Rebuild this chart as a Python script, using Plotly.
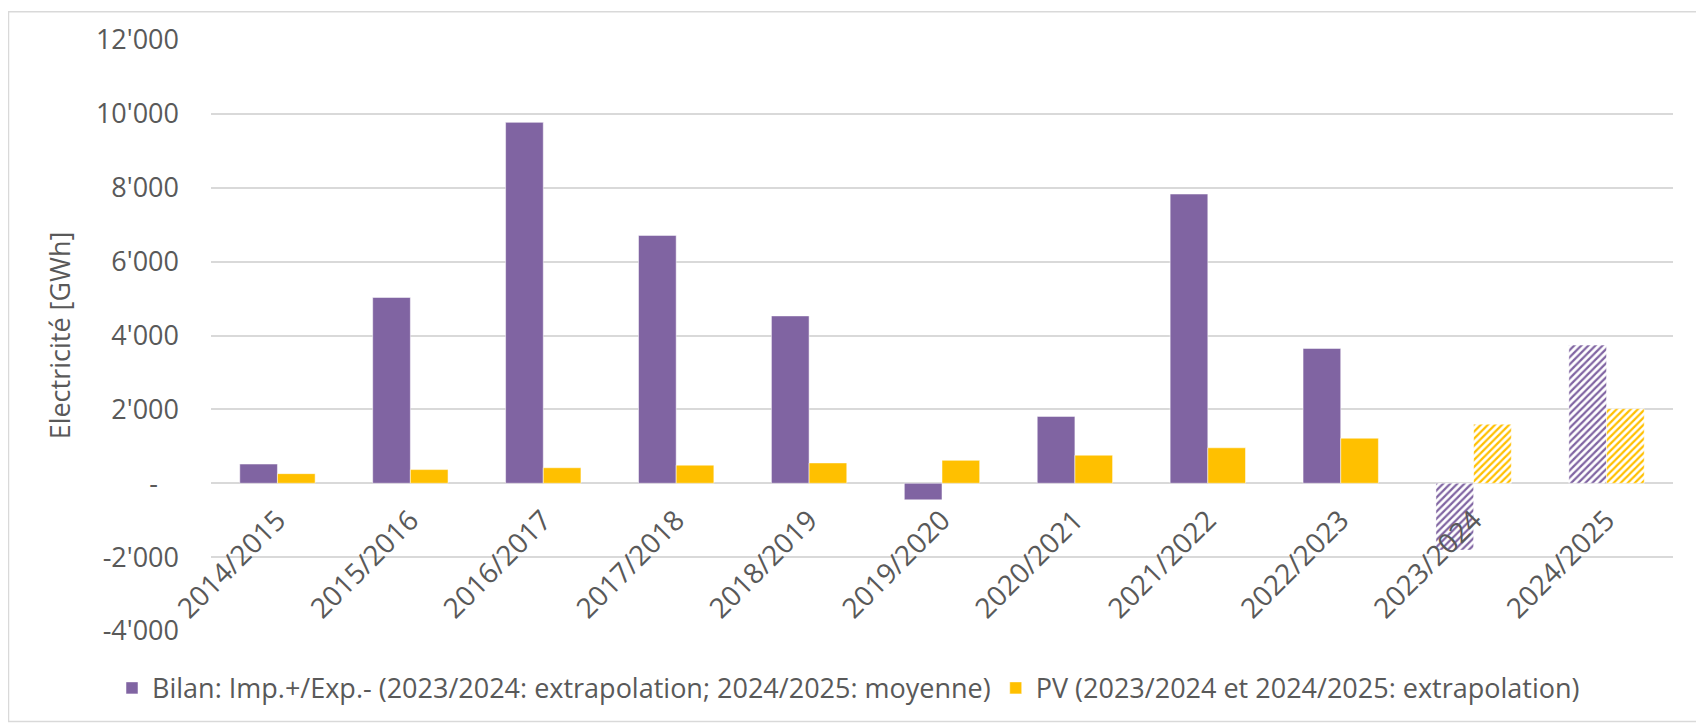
import plotly.graph_objects as go

# saisons
seasons = ["2014/2015", "2015/2016", "2016/2017", "2017/2018", "2018/2019", "2019/2020",
           "2020/2021", "2021/2022", "2022/2023", "2023/2024", "2024/2025"]

# GWh
bilan = [520, 5030, 9770, 6710, 4530, -450, 1810, 7830, 3650, -1810, 3740]
pv = [260, 370, 420, 490, 550, 620, 760, 960, 1220, 1600, 2020]

# extrapolated / averaged seasons are hatched
hatch = ["", "", "", "", "", "", "", "", "", "/", "/"]

y_ticks = [-4000, -2000, 0, 2000, 4000, 6000, 8000, 10000, 12000]
y_ticktext = ["-4'000", "-2'000", "-\u00a0\u00a0\u00a0", "2'000", "4'000", "6'000", "8'000", "10'000", "12'000"]

PURPLE = "#8064A2"
YELLOW = "#FFC000"
GRID = "#d9d9d9"
TXT = "#595959"
FONT = "Open Sans"

# page body has an 8px margin, so the figure is 8px smaller than the window
W, H = 1696, 719
L, R, T, B = 203, 31, 29, 96
pw, ph = W - L - R, H - T - B

y_min, y_max = y_ticks[0], y_ticks[-1]
zero_pos = (0 - y_min) / (y_max - y_min)

fig = go.Figure()
fig.add_trace(go.Bar(
    x=seasons, y=bilan,
    name="Bilan: Imp.+/Exp.- (2023/2024: extrapolation; 2024/2025: moyenne)",
    marker=dict(color=PURPLE, line=dict(color="rgba(255,255,255,0.5)", width=1),
                pattern=dict(shape=hatch, fgcolor=PURPLE, bgcolor="white", size=5, solidity=0.45, fillmode="replace")),
))
fig.add_trace(go.Bar(
    x=seasons, y=pv,
    name="PV (2023/2024 et 2024/2025: extrapolation)",
    marker=dict(color=YELLOW, line=dict(color="rgba(255,255,255,0.5)", width=1),
                pattern=dict(shape=hatch, fgcolor=YELLOW, bgcolor="white", size=5, solidity=0.45, fillmode="replace")),
))

fig.update_layout(
    width=W, height=H,
    margin=dict(l=L, r=R, t=T, b=B),
    paper_bgcolor="white", plot_bgcolor="white",
    barmode="group", bargap=0.433, bargroupgap=0,
    font=dict(family=FONT, color=TXT, size=24),
    showlegend=True,
    legend=dict(orientation="h", x=(104 - L) / pw, xanchor="left", y=-0.097, yanchor="middle",
                font=dict(size=27, color=TXT), traceorder="normal", itemwidth=30),
    xaxis=dict(anchor="free", position=zero_pos, tickangle=-45, showgrid=False, showline=False,
               ticks="", tickfont=dict(size=28, color=TXT), ticklabelstandoff=14),
    yaxis=dict(range=[y_min, y_max], tickvals=y_ticks, ticktext=y_ticktext,
               showgrid=True, gridcolor=GRID, gridwidth=1.5, zeroline=False, showline=False,
               tickfont=dict(size=27, color=TXT), ticklabelstandoff=31,
               title=dict(text="Electricité [GWh]", font=dict(size=27, color=TXT), standoff=17)),
    shapes=[dict(type="rect", xref="paper", yref="paper",
                 x0=(0.5 - L) / pw, x1=(1691 - L) / pw,
                 y0=(T + ph - 714) / ph, y1=(T + ph - 0.5) / ph,
                 line=dict(color=GRID, width=1.5), fillcolor="rgba(0,0,0,0)", layer="below")],
)

fig.write_html("out.html")
